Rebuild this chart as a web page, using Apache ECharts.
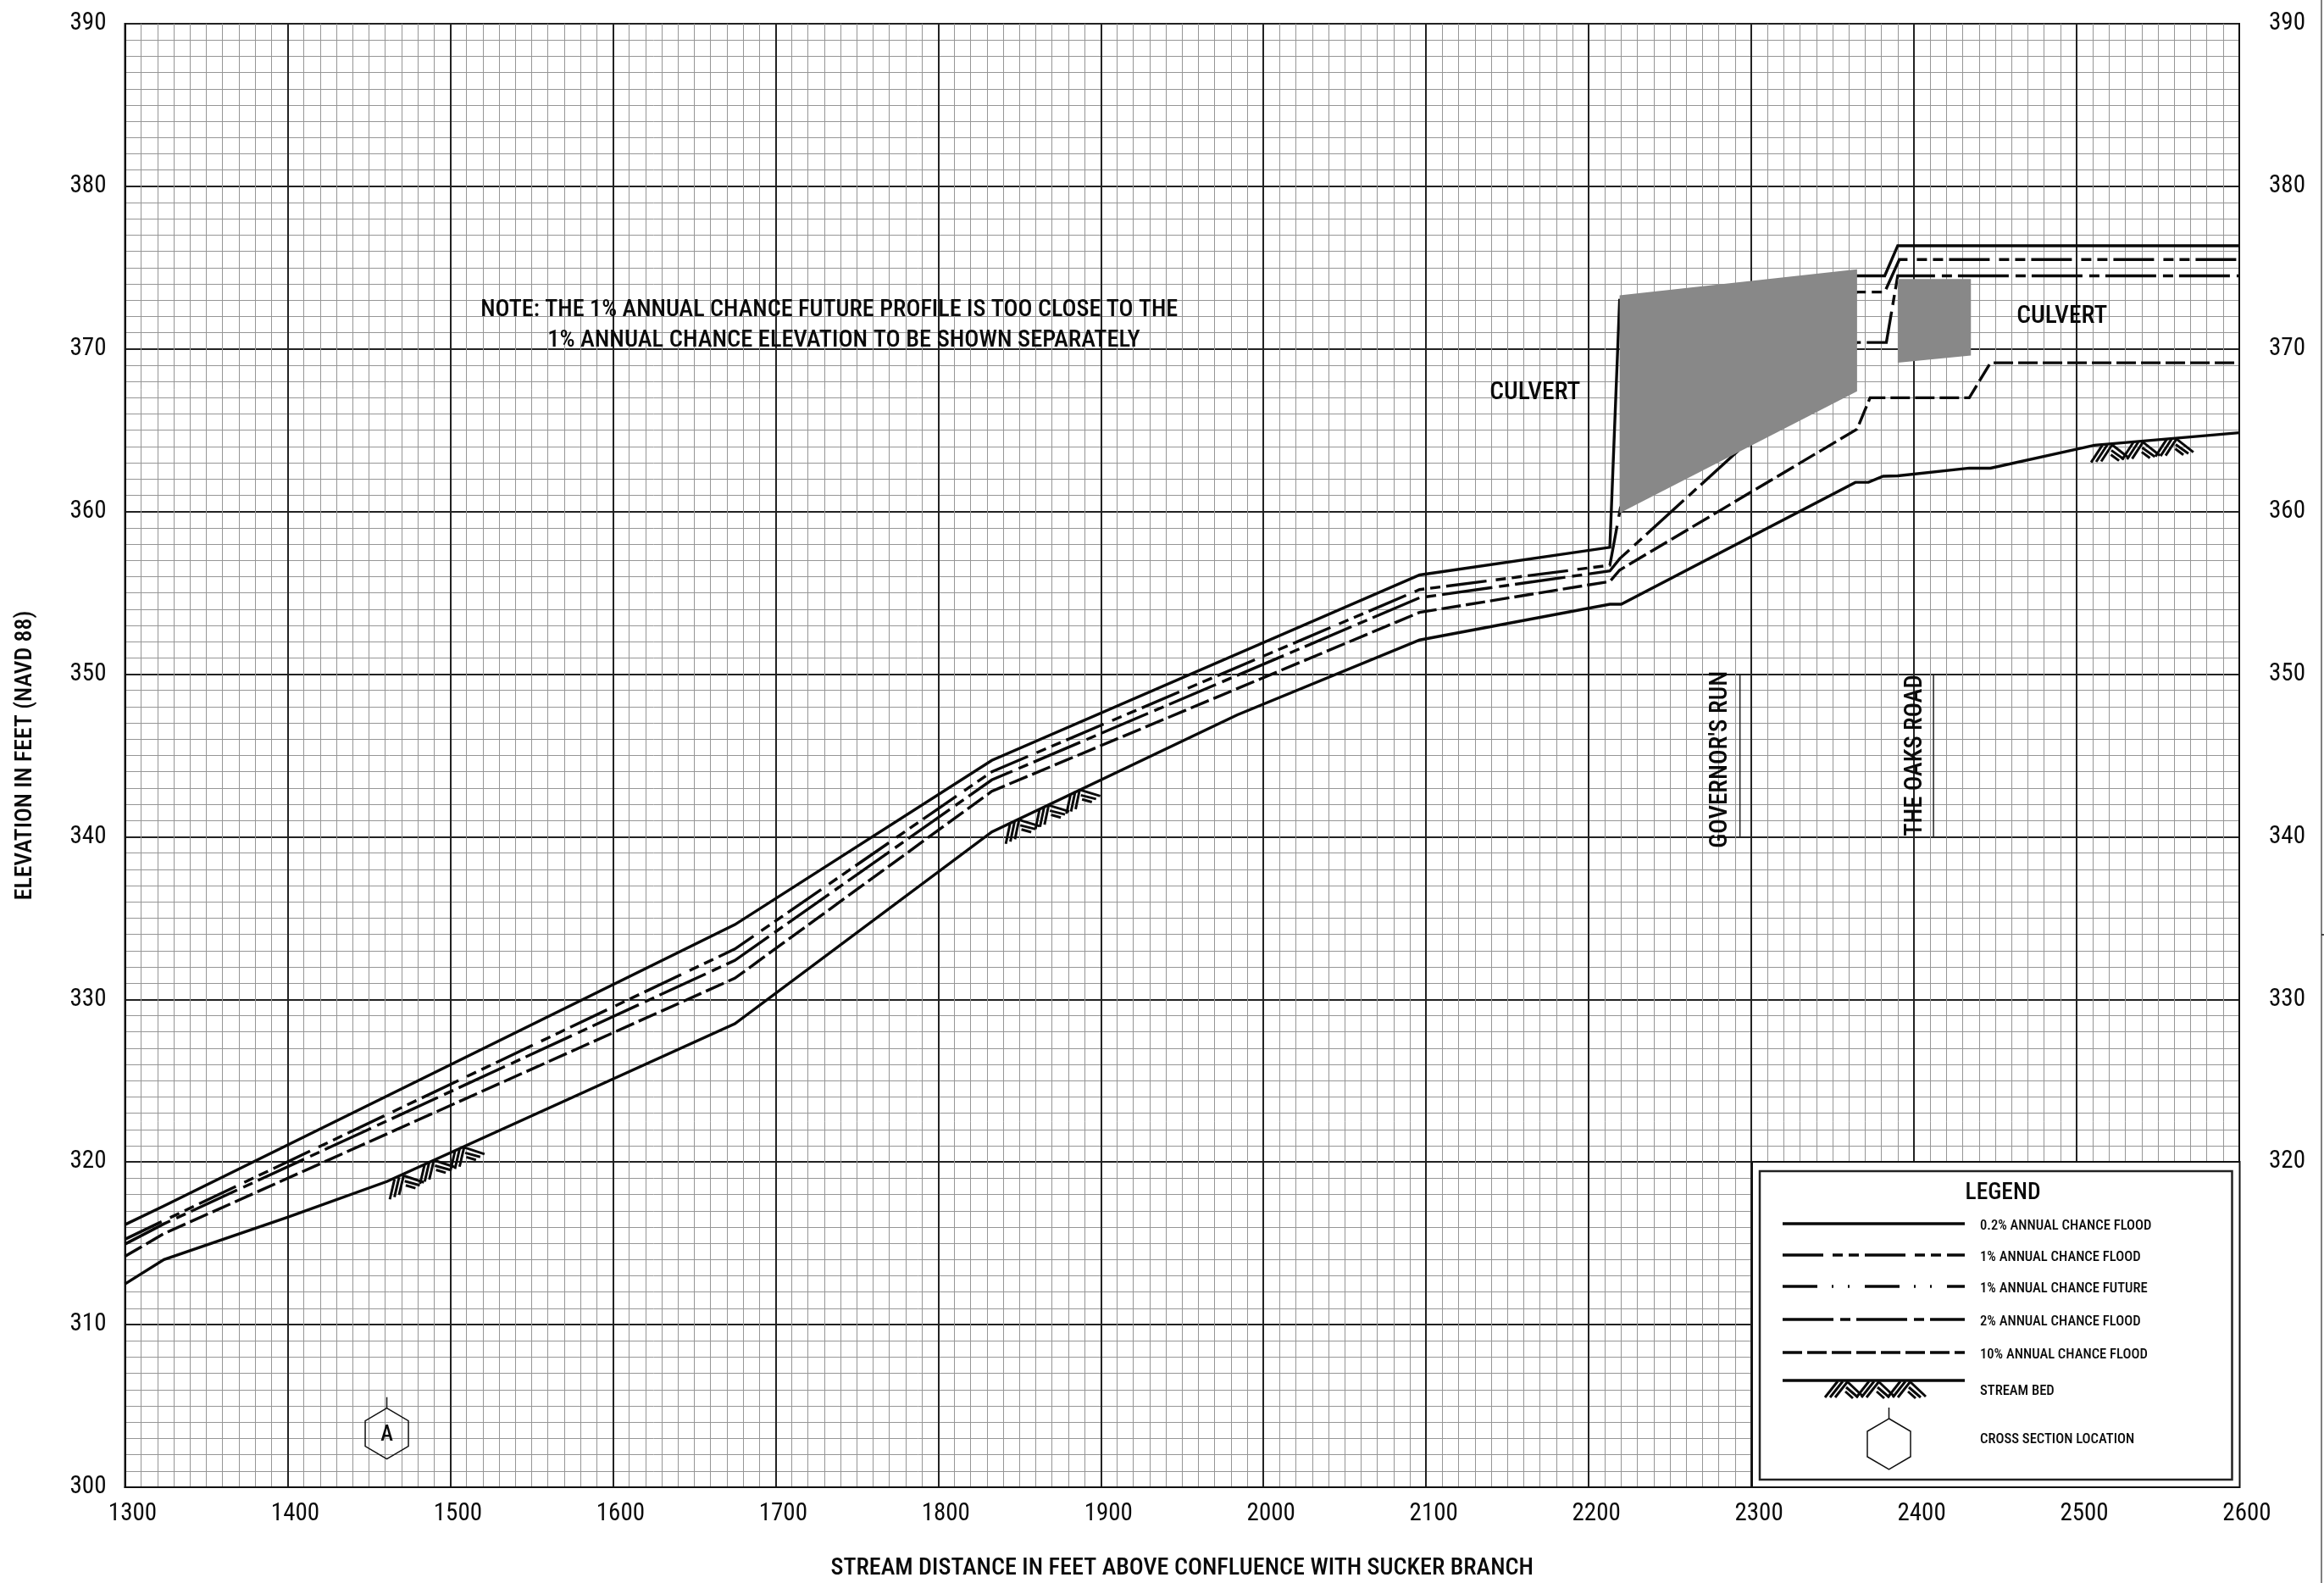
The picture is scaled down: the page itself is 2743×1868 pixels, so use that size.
<!DOCTYPE html>
<html>
<head>
<meta charset="utf-8">
<style>html,body{margin:0;padding:0;background:#fff}#c{width:2743px;height:1868px}</style>
<script src="https://cdn.jsdelivr.net/npm/echarts@6/dist/echarts.min.js"></script>
</head>
<body>
<div id="c"></div>
<script>
// --- chart data (stream distance ft, elevation ft) ---
const flood02 = [[1300,316.15],[1324,317.3],[1675,334.6],[1833,344.7],[2096,356.1],[2213,357.8],[2219,373.0],[2365,374.5],[2382,374.5],[2390,376.35],[2600,376.35]];
const flood1 = [[1300,315.25],[1324,316.4],[1675,333.1],[1833,344.0],[2096,355.2],[2213,356.7],[2220,360.5],[2365,373.5],[2382,373.5],[2391,375.5],[2600,375.5]];
const flood2 = [[1300,314.95],[1324,316.2],[1675,332.4],[1833,343.5],[2096,354.7],[2213,356.35],[2219,357.1],[2365,370.4],[2383,370.4],[2390,374.5],[2600,374.5]];
const flood10 = [[1300,314.2],[1324,315.6],[1675,331.3],[1833,342.8],[2096,353.8],[2213,355.7],[2219,356.4],[2365,365.07],[2373,367.0],[2434,367.0],[2447,369.15],[2600,369.15]];
const streamBed = [[1300,312.5],[1324,314.0],[1400,316.6],[1461,318.8],[1675,328.5],[1833,340.3],[1984,347.5],[2096,352.1],[2213,354.3],[2220,354.3],[2364,361.8],[2372,361.8],[2381,362.17],[2390,362.2],[2434,362.67],[2447,362.67],[2511,364.08],[2600,364.85]];
const culvertPolygons = [[2219,373.3,2365,374.9,2365,367.4,2219,359.9],[2390,374.3,2435,374.3,2435,369.6,2390,369.15]];
const hatchApexes = [[1471.4,319.2,1490,320.15,1508.6,320.94],[1849.8,341.08,1868,341.98,1887.1,342.93],[2522,364.14,2541,364.3,2561.6,364.5]];
const roadLines = [[2293,350,2293,340],[2412,350,2412,340]];
const crossSection = [[1461,303.3]];
const crossSectionLabels = ['A'];
const annotationTexts = ['NOTE: THE 1% ANNUAL CHANCE FUTURE PROFILE IS TOO CLOSE TO THE','1% ANNUAL CHANCE ELEVATION TO BE SHOWN SEPARATELY','CULVERT','CULVERT',"GOVERNOR'S RUN",'THE OAKS ROAD'];
const annotationPos = [[1733,372.4],[1742,370.5],[2167,367.3],[2491,371.97],[2281,344.75],[2401,345.0]];
const annotationRotated = [0,0,0,0,1,1];
const annotationFontSizes = [28.2,28.5,29.5,29.5,29,28.6];
const legendLabels = ['0.2% ANNUAL CHANCE FLOOD','1% ANNUAL CHANCE FLOOD','1% ANNUAL CHANCE FUTURE','2% ANNUAL CHANCE FLOOD','10% ANNUAL CHANCE FLOOD','STREAM BED','CROSS SECTION LOCATION'];
const rightTickMin = 320;
const xTitle = 'STREAM DISTANCE IN FEET ABOVE CONFLUENCE WITH SUCKER BRANCH';
const yTitle = 'ELEVATION IN FEET (NAVD 88)';

const FONT = '"Roboto Condensed", "DejaVu Sans Condensed", sans-serif';
const INK = '#0a0a0a';
const dash1 = [48,11,12,7,12,7];
const dashFuture = [41,17,2,17,2,18];
const dash2 = [60,8,12,7];
const dash10 = [23,6];

function hatchLines(ax, ay, ang, style){
  const out = [];
  const rot = (dx,dy)=>[ax+dx*Math.cos(ang)-dy*Math.sin(ang), ay+dx*Math.sin(ang)+dy*Math.cos(ang)];
  const seg = (a,b,c,d)=>{const s=rot(a,b),e=rot(c,d);out.push({type:'line',shape:{x1:s[0],y1:s[1],x2:e[0],y2:e[1]},style});};
  for(let k=0;k<3;k++) seg(-k*6,0,-k*6-15,19);
  seg(0,1,18,18);
  seg(-2,7,12,19);
  seg(-3,12,6,20);
  return out;
}
function hexagon(cx, cy, stroke){
  const w=25.5,h=30,q=15;
  return [
    {type:'polygon',shape:{points:[[cx,cy-h],[cx+w,cy-q],[cx+w,cy+q],[cx,cy+h],[cx-w,cy+q],[cx-w,cy-q]]},style:{fill:'rgba(255,255,255,0)',stroke,lineWidth:1.5}},
    {type:'line',shape:{x1:cx,y1:cy-h-13,x2:cx,y2:cy-h},style:{stroke,lineWidth:1.5}}
  ];
}
const lineSeries = (name,data,type)=>({name,type:'line',data,showSymbol:false,symbol:'none',smooth:false,z:3,animation:false,
  lineStyle:{color:INK,width:3.4,type,cap:'butt',join:'miter'},silent:true});

// legend (a drawn panel, positioned on the page)
const LX1=2104,LX2=2319,TX=2337;
const legendRows=[1444,1481,1518,1557,1596,1629];
const legendTextY=[1447,1484,1521,1560,1599,1642,1699];
const legendDash=[null,dash1,dashFuture,dash2,dash10,null];
const g=[];
g.push({type:'rect',z:50,shape:{x:2068,y:1371,width:575.5,height:384},style:{fill:'#fff',stroke:'#111',lineWidth:2}});
g.push({type:'rect',z:51,shape:{x:2077,y:1382,width:557.5,height:364},style:{fill:'#fff',stroke:'#222',lineWidth:2.5}});
g.push({type:'text',z:52,x:2364,y:1408,style:{text:'LEGEND',font:'500 27.5px '+FONT,fill:INK,align:'center',verticalAlign:'middle'}});
legendRows.forEach((y,i)=>{
  g.push({type:'line',z:52,shape:{x1:LX1,y1:y,x2:LX2,y2:y},style:{stroke:INK,lineWidth:3.4,lineDash:legendDash[i]||null}});
});
legendLabels.forEach((t,i)=>{
  g.push({type:'text',z:52,x:TX,y:legendTextY[i],style:{text:t,font:'500 16.6px '+FONT,fill:INK,align:'left',verticalAlign:'middle'}});
});
[2181,2218,2255].forEach(x=>{
  hatchLines(x,1630,0,{stroke:INK,lineWidth:3}).forEach(l=>{l.z=52;g.push(l);});
});
hexagon(2229.5,1704,'#111').forEach(h=>{h.z=52;g.push(h);});
// page-edge rule at the far right
g.push({type:'line',z:1,shape:{x1:2740,y1:0,x2:2740,y2:1868},style:{stroke:'#555',lineWidth:1.5}});
g.push({type:'line',z:1,shape:{x1:2740,y1:1103,x2:2743,y2:1103},style:{stroke:'#111',lineWidth:1.5}});

const option={
  animation:false,
  backgroundColor:'#fff',
  grid:{left:147.5,top:28,width:2495.5,height:1727,show:true,borderColor:'#111',borderWidth:2,backgroundColor:'#fff',containLabel:false,outerBoundsMode:'none'},
  xAxis:{type:'value',min:1300,max:2600,interval:100,minorTick:{show:false,splitNumber:10},
    name:xTitle,nameLocation:'middle',nameGap:82,nameTextStyle:{fontFamily:FONT,fontSize:28.2,fontWeight:500,color:INK},
    axisLine:{show:true,onZero:false,lineStyle:{color:'#111',width:2}},axisTick:{show:false},
    axisLabel:{fontFamily:FONT,fontSize:29,fontWeight:400,color:INK,margin:17,padding:[0,0,0,18],formatter:v=>String(v),hideOverlap:false},
    splitLine:{show:true,lineStyle:{color:'#222',width:2}},
    minorSplitLine:{show:true,lineStyle:{color:'#969696',width:1}}},
  yAxis:[{type:'value',min:300,max:390,interval:10,minorTick:{show:false,splitNumber:10},
    name:yTitle,nameLocation:'middle',nameGap:103,nameRotate:90,nameTextStyle:{fontFamily:FONT,fontSize:27.8,fontWeight:500,color:INK},
    axisLine:{show:true,onZero:false,lineStyle:{color:'#111',width:2}},axisTick:{show:false},
    axisLabel:{fontFamily:FONT,fontSize:29,fontWeight:400,color:INK,margin:22},
    splitLine:{show:true,lineStyle:{color:'#222',width:2}},
    minorSplitLine:{show:true,lineStyle:{color:'#969696',width:1}}},
   {type:'value',position:'right',min:300,max:390,interval:10,
    axisLine:{show:true,onZero:false,lineStyle:{color:'#111',width:2}},axisTick:{show:false},splitLine:{show:false},
    axisLabel:{fontFamily:FONT,fontSize:29,fontWeight:400,color:INK,margin:35,formatter:v=>v>=rightTickMin?String(v):''}}],
  graphic:{elements:g},
  series:[
    lineSeries('0.2% ANNUAL CHANCE FLOOD',flood02,'solid'),
    lineSeries('1% ANNUAL CHANCE FLOOD',flood1,dash1),
    lineSeries('2% ANNUAL CHANCE FLOOD',flood2,dash2),
    lineSeries('10% ANNUAL CHANCE FLOOD',flood10,dash10),
    lineSeries('STREAM BED',streamBed,'solid'),
    {name:'culverts',type:'custom',z:5,silent:true,data:culvertPolygons,clip:false,
      renderItem(p,api){
        const pts=[0,2,4,6].map(i=>api.coord([api.value(i),api.value(i+1)]));
        return {type:'polygon',shape:{points:pts},style:{fill:'#888888'}};
      }},
    {name:'hatch',type:'custom',z:4,silent:true,data:hatchApexes,clip:false,
      renderItem(p,api){
        const pts=[0,2,4].map(i=>api.coord([api.value(i),api.value(i+1)]));
        const ang=Math.atan2(pts[2][1]-pts[0][1],pts[2][0]-pts[0][0]);
        const ch=[];
        pts.forEach(q=>hatchLines(q[0],q[1],ang,{stroke:INK,lineWidth:3}).forEach(l=>ch.push(l)));
        return {type:'group',children:ch};
      }},
    {name:'roads',type:'custom',z:4,silent:true,data:roadLines,clip:false,
      renderItem(p,api){
        const a=api.coord([api.value(0),api.value(1)]),b=api.coord([api.value(2),api.value(3)]);
        return {type:'line',shape:{x1:a[0],y1:a[1],x2:b[0],y2:b[1]},style:{stroke:'#222',lineWidth:1.5}};
      }},
    {name:'cross section',type:'custom',z:4,silent:true,data:crossSection,clip:false,
      renderItem(p,api){
        const c=api.coord([api.value(0),api.value(1)]);
        const ch=hexagon(c[0],c[1],'#111');
        ch.push({type:'text',x:c[0],y:c[1]+2,style:{text:crossSectionLabels[p.dataIndex],font:'500 25px '+FONT,fill:INK,align:'center',verticalAlign:'middle'}});
        return {type:'group',children:ch};
      }},
    {name:'annotations',type:'custom',z:6,silent:true,data:annotationPos,clip:false,
      renderItem(p,api){
        const c=api.coord([api.value(0),api.value(1)]);
        return {type:'text',x:c[0],y:c[1],rotation:annotationRotated[p.dataIndex]?Math.PI/2:0,
          style:{text:annotationTexts[p.dataIndex],font:'500 '+annotationFontSizes[p.dataIndex]+'px '+FONT,fill:INK,align:'center',verticalAlign:'middle'}};
      }}
  ]
};
const chart=echarts.init(document.getElementById('c'),null,{renderer:'canvas',width:2743,height:1868});
chart.setOption(option);
</script>
</body>
</html>
